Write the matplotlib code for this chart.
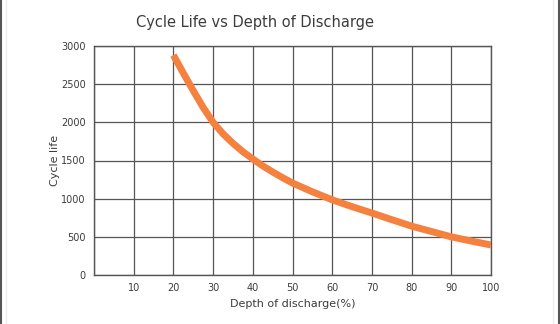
import numpy as np
import matplotlib
matplotlib.use("Agg")
import matplotlib.pyplot as plt
from matplotlib.lines import Line2D

# depth of discharge (%) and cycle life
dod = [20, 22.5, 25, 27.5, 30, 32.5, 35, 37.5, 40, 42.5, 45, 47.5, 50,
       55, 60, 65, 70, 75, 80, 85, 90, 95, 100]
cycles = [2880, 2645, 2415, 2195, 2000, 1850, 1725, 1615, 1520, 1430, 1350, 1275, 1205,
          1090, 985, 895, 812, 725, 640, 570, 500, 445, 393]

x_ticks = [10, 20, 30, 40, 50, 60, 70, 80, 90, 100]
y_ticks = [0, 500, 1000, 1500, 2000, 2500, 3000]

text_c = "#3c3c3c"
grid_c = "#555555"

fig = plt.figure(figsize=(5.6, 3.24), dpi=100)
ax = fig.add_axes([94 / 560, 49 / 324, 397 / 560, 229 / 324])

ax.plot(dod, cycles, c="#f5813f", lw=5, solid_capstyle="butt",
        solid_joinstyle="round", zorder=3)

ax.set_xlim(0, 100)
ax.set_ylim(0, 3000)
ax.set_xticks(x_ticks)
ax.set_yticks(y_ticks)
ax.set_xticks(np.arange(0, 101, 10), minor=True)
ax.grid(True, which="both", color=grid_c, lw=0.9)
ax.tick_params(which="both", length=0, labelsize=7, colors=text_c, pad=6)
for s in ax.spines.values():
    s.set_color(grid_c)
    s.set_linewidth(1)

ax.set_xlabel("Depth of discharge(%)", fontsize=8, color=text_c, labelpad=4)
ax.set_ylabel("Cycle life", fontsize=8, color=text_c, labelpad=1)
fig.text(255 / 560, 1 - 22 / 324, "Cycle Life vs Depth of Discharge",
         fontsize=10.5, color=text_c, ha="center", va="center")

# outer frame of the picture
fig.add_artist(Line2D([1 / 560, 1 / 560], [0, 1], transform=fig.transFigure, c="#555555", lw=1.5))
fig.add_artist(Line2D([559 / 560, 559 / 560], [0, 1], transform=fig.transFigure, c="#555555", lw=1.5))
fig.add_artist(Line2D([6 / 560, 6 / 560], [0, 1], transform=fig.transFigure, c="#eeeeee", lw=1))
fig.add_artist(Line2D([553 / 560, 553 / 560], [0, 1], transform=fig.transFigure, c="#eeeeee", lw=1))

fig.savefig("out.png", dpi=100)
